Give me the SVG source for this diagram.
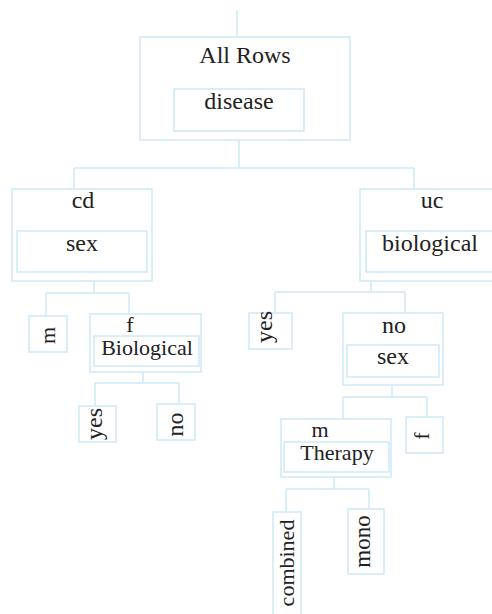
<svg xmlns="http://www.w3.org/2000/svg" width="492" height="614" viewBox="0 0 492 614">
<style>
.box rect{fill:none;stroke:#cde9f8;stroke-width:1.5}
#connectors path{fill:none;stroke:#cde9f8;stroke-width:1.5}
</style>
<rect width="492" height="614" fill="#fff"/>
<g id="connectors">
<path d="M237 10V37"/>
<path d="M239 140V168M74 168H414M74 168V189M414 168V189"/>
<path d="M94 281V293M46 293H129M46 293V316M129 293V314"/>
<path d="M143 372V383M95 383H179M95 383V406M179 383V404"/>
<path d="M371 281V292M275 292H405M275 292V313M405 292V313"/>
<path d="M392 385V397M343 397H427M343 397V419M427 397V417"/>
<path d="M334 477V489M286 489H369M286 489V512M369 489V509"/>
</g>
<g class="box">
<g id="n-all">
<rect x="140" y="37" width="210" height="103"/>
<rect x="174" y="89" width="130" height="42"/>
</g>
<g id="n-cd">
<rect x="12" y="189" width="140" height="92"/>
<rect x="17" y="231" width="130" height="41"/>
</g>
<g id="n-uc">
<rect x="360" y="189" width="140" height="92"/>
<rect x="366" y="231" width="134" height="41"/>
</g>
<g id="n-cd-m"><rect x="29" y="316" width="38" height="36"/></g>
<g id="n-cd-f">
<rect x="90" y="314" width="111" height="58"/>
<rect x="94" y="336" width="105" height="30"/>
</g>
<g id="n-cd-f-yes"><rect x="79" y="406" width="37" height="36"/></g>
<g id="n-cd-f-no"><rect x="157" y="404" width="38" height="36"/></g>
<g id="n-uc-yes"><rect x="249" y="313" width="43" height="36"/></g>
<g id="n-uc-no">
<rect x="343" y="313" width="100" height="72"/>
<rect x="347" y="345" width="92" height="32"/>
</g>
<g id="n-uc-no-m">
<rect x="281" y="419" width="110" height="58"/>
<rect x="284" y="442" width="105" height="30"/>
</g>
<g id="n-uc-no-f"><rect x="406" y="417" width="37" height="36"/></g>
<g id="n-combined"><rect x="273" y="512" width="28" height="110"/></g>
<g id="n-mono"><rect x="348" y="509" width="36" height="65"/></g>
</g>
<g id="labels" fill="#222" text-anchor="middle">
<text font-family="Liberation Serif" font-size="24" x="245" y="63">All Rows</text>
<text font-family="Liberation Serif" font-size="24" x="239" y="109">disease</text>
<text font-family="Liberation Serif" font-size="24" x="83" y="208">cd</text>
<text font-family="Liberation Serif" font-size="24" x="82" y="251">sex</text>
<text font-family="Liberation Serif" font-size="24" x="432" y="208">uc</text>
<text font-family="Liberation Serif" font-size="24" x="430" y="251">biological</text>
<text font-family="Liberation Serif" font-size="22" transform="translate(55 335.5) rotate(-90)">m</text>
<text font-family="Liberation Serif" font-size="22" x="130" y="332">f</text>
<text font-family="Liberation Serif" font-size="22" x="147" y="355">Biological</text>
<text font-family="Liberation Serif" font-size="24" transform="translate(102 424) rotate(-90)">yes</text>
<text font-family="Liberation Serif" font-size="24" transform="translate(183 424.5) rotate(-90)">no</text>
<text font-family="Liberation Serif" font-size="24" transform="translate(272 327) rotate(-90)">yes</text>
<text font-family="Liberation Serif" font-size="24" x="394" y="333">no</text>
<text font-family="Liberation Serif" font-size="24" x="393" y="364">sex</text>
<text font-family="Liberation Serif" font-size="22" x="320" y="437">m</text>
<text font-family="Liberation Serif" font-size="22" x="337" y="460">Therapy</text>
<text font-family="Liberation Serif" font-size="22" transform="translate(429 436) rotate(-90)">f</text>
<text font-family="Liberation Serif" font-size="22" transform="translate(294 563) rotate(-90)">combined</text>
<text font-family="Liberation Serif" font-size="23" transform="translate(370 541.5) rotate(-90)">mono</text>
</g>
</svg>
